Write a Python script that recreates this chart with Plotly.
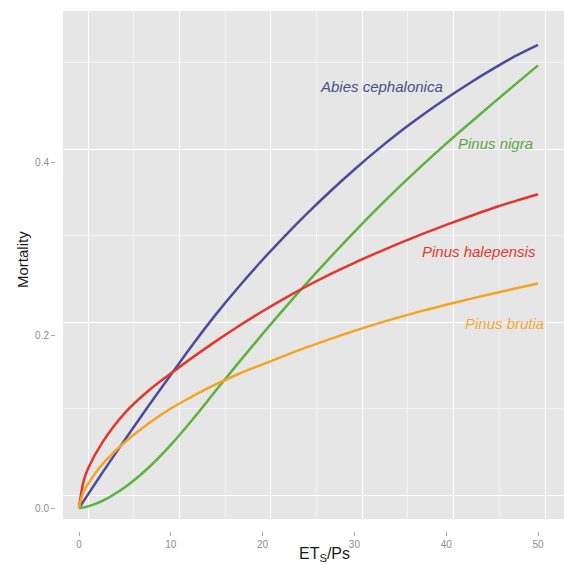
import plotly.graph_objects as go

# ---- data ----
ets_ps = [0, 0.5, 1, 2.5, 5, 7.5, 10, 12.5, 15, 17.5, 20, 22.5, 25, 27.5, 30,
          32.5, 35, 37.5, 40, 42.5, 45, 47.5, 50]

abies_cephalonica = [0, 0.008, 0.016, 0.040, 0.079, 0.117, 0.154, 0.1905, 0.225, 0.257,
                     0.287, 0.3153, 0.342, 0.3673, 0.3913, 0.414, 0.4353, 0.455, 0.4735,
                     0.4908, 0.507, 0.5223, 0.5355]
pinus_nigra = [0, 0.0005, 0.002, 0.008, 0.024, 0.046, 0.073, 0.104, 0.137, 0.1695,
               0.2013, 0.2323, 0.2623, 0.2913, 0.3193, 0.3463, 0.3723, 0.3973, 0.4213,
               0.4443, 0.467, 0.4895, 0.5117]
pinus_halepensis = [0, 0.031, 0.046, 0.075, 0.110, 0.135, 0.1555, 0.175, 0.1935, 0.211,
                    0.2275, 0.243, 0.2575, 0.271, 0.2835, 0.2952, 0.3064, 0.3171, 0.3273,
                    0.337, 0.3463, 0.3548, 0.3628]
pinus_brutia = [0, 0.019, 0.028, 0.050, 0.076, 0.097, 0.115, 0.1298, 0.1434, 0.1555,
                0.166, 0.1765, 0.1865, 0.1958, 0.2048, 0.2132, 0.221, 0.2282, 0.235,
                0.2415, 0.2477, 0.2537, 0.2595]

species = ["Abies cephalonica", "Pinus nigra", "Pinus halepensis", "Pinus brutia"]
series = [abies_cephalonica, pinus_nigra, pinus_halepensis, pinus_brutia]

x_tick_vals = [0, 10, 20, 30, 40, 50]
y_tick_vals = [0.0, 0.2, 0.4]
y_tick_text = ["0.0", "0.2", "0.4"]

# ---- styles ----
line_colors = ["#4B4B9E", "#5DB33D", "#E3362B", "#F6A322"]
text_colors = ["#4A4E8C", "#5FA548", "#E2392E", "#F3A934"]
label_pos = {  # label centres in data units
    "Abies cephalonica": (32.9, 0.487),
    "Pinus nigra": (45.4, 0.421),
    "Pinus halepensis": (43.6, 0.296),
    "Pinus brutia": (46.4, 0.213),
}

W, H = 564, 565
FONT = "Liberation Sans, Arial"
fig = go.Figure()

for name, vals, col in zip(species, series, line_colors):
    fig.add_trace(go.Scatter(x=ets_ps, y=vals, mode="lines", name=name,
                             line=dict(color=col, width=2.5, shape="spline", smoothing=1.0),
                             xaxis="x", yaxis="y", showlegend=False))

# invisible trace for the grid axes
fig.add_trace(go.Scatter(x=[0], y=[0], mode="markers", marker=dict(opacity=0),
                         xaxis="x2", yaxis="y2", showlegend=False, hoverinfo="skip"))

xdom = [63 / W, 1.0]
ydom = [1 - 519 / H, 1 - 11 / H]

for name, tc in zip(species, text_colors):
    xx, yy = label_pos[name]
    fig.add_annotation(x=xx, y=yy, xref="x", yref="y", text="<i>" + name + "</i>",
                       showarrow=False, font=dict(family=FONT, size=15, color=tc),
                       xanchor="center", yanchor="middle")

fig.add_annotation(x=22 / W, y=1 - 260 / H, xref="paper", yref="paper", text="Mortality",
                   textangle=-90, showarrow=False, xanchor="center", yanchor="middle",
                   font=dict(family=FONT, size=15, color="#1a1a1a"))
fig.add_annotation(x=324 / W, y=1 - 554 / H, xref="paper", yref="paper",
                   text="ET<sub>S</sub>/Ps", showarrow=False, xanchor="center",
                   yanchor="middle", font=dict(family=FONT, size=16, color="#1a1a1a"))

tickfont = dict(family=FONT, size=10, color="#8C8C8C")

fig.update_layout(
    width=W, height=H, autosize=False,
    margin=dict(l=0, r=0, t=0, b=0),
    paper_bgcolor="white", plot_bgcolor="#E6E6E6",
    xaxis=dict(domain=xdom, range=[(63 - 79) / 9.18, (564 - 79) / 9.18],
               anchor="free", position=1 - 531 / H, showgrid=False, zeroline=False,
               showline=False, ticks="outside", ticklen=4, tickwidth=1,
               tickcolor="#A8A8A8", tickvals=x_tick_vals, tickfont=tickfont),
    yaxis=dict(domain=ydom, range=[(508 - 519) / 865, (508 - 11) / 865],
               anchor="free", position=55 / W, showgrid=False, zeroline=False,
               showline=False, ticks="outside", ticklen=4, tickwidth=1,
               tickcolor="#A8A8A8", tickvals=y_tick_vals, ticktext=y_tick_text,
               tickfont=tickfont),
    xaxis2=dict(domain=xdom, overlaying="x", anchor="y2",
                range=[(63 - 88) / 9.14, (564 - 88) / 9.14],
                showgrid=True, gridcolor="white", gridwidth=1.4, tick0=0, dtick=10,
                minor=dict(dtick=5, showgrid=True, gridcolor="#F2F2F2", gridwidth=0.8),
                showticklabels=False, ticks="", zeroline=False, showline=False),
    yaxis2=dict(domain=ydom, overlaying="y", anchor="x2",
                range=[(495 - 519) / 865, (495 - 11) / 865],
                showgrid=True, gridcolor="white", gridwidth=1.4, tick0=0, dtick=0.2,
                minor=dict(dtick=0.1, showgrid=True, gridcolor="#F2F2F2", gridwidth=0.8),
                showticklabels=False, ticks="", zeroline=False, showline=False),
)

fig.write_html("out.html")
